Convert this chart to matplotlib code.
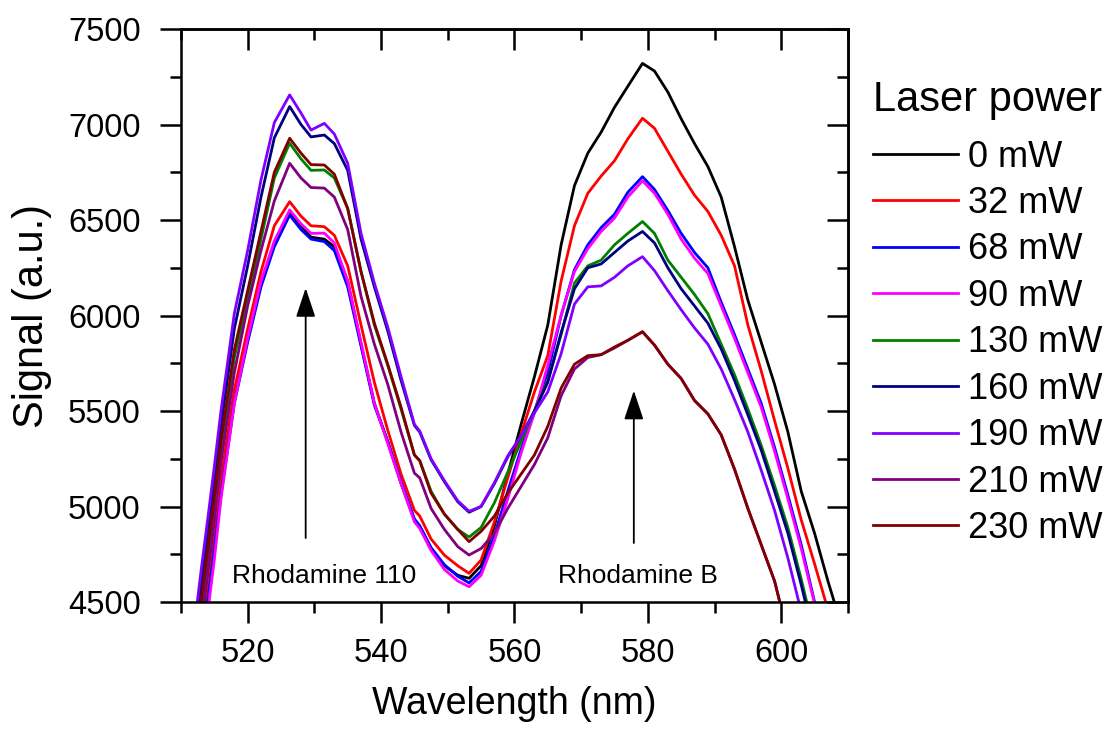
import matplotlib.pyplot as plt
from matplotlib.ticker import MultipleLocator

# wavelength grid (nm) shared by all spectra
wavelength = [512, 513, 514, 515, 516, 518, 520, 522, 524, 526.3, 528, 529.5, 531.5, 533,
              535, 537, 539, 541, 543, 545, 545.8, 547.5, 549.5, 551.5, 553.2, 555, 557,
              559, 561, 563, 565, 567, 569, 571, 573, 575, 577, 579.2, 581, 583, 585, 587,
              589, 591, 593, 595, 597, 599, 601, 603, 605, 607, 609, 610]

# emission signal for each laser power (a.u.)
sig_0mw = [4020, 4310, 4580, 4860, 5120, 5580, 5880, 6160, 6380, 6540, 6470, 6410, 6400, 6360,
           6180, 5850, 5540, 5340, 5120, 4930, 4895, 4780, 4690, 4640, 4624, 4690, 4900,
           5170, 5430, 5680, 5950, 6370, 6680, 6850, 6960, 7090, 7200, 7320, 7280, 7170,
           7030, 6900, 6780, 6620, 6360, 6080, 5860, 5640, 5390, 5080, 4860, 4610, 4380, 4270]
sig_32mw = [3990, 4280, 4550, 4830, 5140, 5610, 5930, 6230, 6470, 6596, 6520, 6470, 6465, 6420,
            6260, 5950, 5650, 5400, 5170, 4980, 4950, 4830, 4745, 4690, 4650, 4720, 4920,
            5150, 5380, 5600, 5790, 6180, 6470, 6640, 6730, 6810, 6925, 7033, 6980, 6860,
            6740, 6630, 6545, 6420, 6260, 5950, 5710, 5450, 5200, 4930, 4700, 4460, 4220, 4100]
sig_68mw = [3940, 4230, 4500, 4780, 5060, 5540, 5860, 6150, 6360, 6526, 6450, 6400, 6387, 6340,
            6150, 5840, 5530, 5340, 5130, 4935, 4900, 4785, 4695, 4635, 4600, 4660, 4850,
            5080, 5300, 5500, 5700, 6000, 6240, 6370, 6460, 6530, 6645, 6727, 6660, 6550,
            6430, 6330, 6250, 6070, 5900, 5720, 5540, 5310, 5060, 4800, 4500, 4200, 3900, 3750]
sig_90mw = [3880, 4170, 4440, 4720, 5040, 5540, 5880, 6180, 6390, 6553, 6480, 6430, 6431, 6380,
            6180, 5860, 5540, 5330, 5120, 4920, 4885, 4770, 4670, 4610, 4580, 4640, 4820,
            5040, 5280, 5490, 5740, 6000, 6230, 6350, 6440, 6510, 6620, 6705, 6640, 6530,
            6400, 6300, 6220, 6050, 5880, 5700, 5520, 5290, 5040, 4780, 4490, 4190, 3890, 3740]
sig_130mw = [4155, 4445, 4715, 4990, 5285, 5780, 6080, 6400, 6720, 6902, 6820, 6760, 6762, 6720,
             6560, 6230, 5950, 5740, 5510, 5270, 5240, 5080, 4960, 4880, 4840, 4890, 5020,
             5180, 5340, 5500, 5660, 5900, 6170, 6260, 6290, 6370, 6430, 6492, 6430, 6290,
             6200, 6110, 6010, 5850, 5690, 5510, 5320, 5110, 4890, 4620, 4330, 4050, 3770, 3630]
sig_160mw = [4290, 4580, 4850, 5130, 5420, 5930, 6260, 6620, 6930, 7094, 7000, 6935, 6945, 6900,
             6760, 6400, 6150, 5920, 5660, 5425, 5390, 5245, 5130, 5025, 4970, 5000, 5120,
             5260, 5370, 5500, 5650, 5910, 6140, 6250, 6270, 6330, 6390, 6440, 6380, 6250,
             6140, 6050, 5960, 5825, 5660, 5480, 5295, 5080, 4860, 4590, 4300, 4020, 3740, 3600]
sig_190mw = [4370, 4660, 4930, 5208, 5500, 6010, 6340, 6710, 7010, 7155, 7060, 6971, 7006, 6950,
             6797, 6430, 6170, 5940, 5680, 5430, 5395, 5250, 5135, 5030, 4975, 5000, 5125,
             5265, 5370, 5490, 5600, 5800, 6060, 6150, 6155, 6200, 6260, 6308, 6235, 6130,
             6030, 5935, 5850, 5720, 5560, 5390, 5190, 4980, 4730, 4450, 4170, 3890, 3610, 3470]
sig_210mw = [4100, 4390, 4660, 4940, 5230, 5700, 6050, 6340, 6600, 6797, 6720, 6670, 6667, 6620,
             6450, 6100, 5850, 5640, 5390, 5175, 5150, 4990, 4880, 4790, 4746, 4780, 4860,
             4990, 5105, 5220, 5360, 5580, 5720, 5780, 5795, 5830, 5870, 5915, 5845, 5745,
             5670, 5555, 5485, 5375, 5195, 4990, 4800, 4610, 4330, 4050, 3780, 3500, 3250, 3100]
sig_230mw = [4210, 4500, 4770, 5050, 5340, 5820, 6130, 6440, 6750, 6928, 6850, 6790, 6788, 6740,
             6560, 6230, 5960, 5745, 5520, 5270, 5240, 5070, 4960, 4880, 4816, 4870, 4950,
             5070, 5170, 5270, 5420, 5620, 5745, 5790, 5795, 5835, 5870, 5915, 5845, 5745,
             5670, 5555, 5485, 5375, 5195, 4990, 4800, 4610, 4330, 4050, 3780, 3500, 3250, 3100]

labels = ['0 mW', '32 mW', '68 mW', '90 mW', '130 mW', '160 mW', '190 mW', '210 mW', '230 mW']
colors = ['#000000', '#FF0000', '#0000FF', '#FF00FF', '#008000', '#000080', '#8000FF',
          '#800080', '#800000']
spectra = [sig_0mw, sig_32mw, sig_68mw, sig_90mw, sig_130mw, sig_160mw, sig_190mw,
           sig_210mw, sig_230mw]

plt.rcParams['font.family'] = ['Liberation Sans', 'DejaVu Sans']

fig = plt.figure(figsize=(11.17, 7.29), dpi=100)
ax = fig.add_axes([0.162, 0.1742, 0.5971, 0.786])

for sig, lab, col in zip(spectra, labels, colors):
    ax.plot(wavelength, sig, color=col, lw=2.0, label=lab)

ax.set_xlim(510, 610)
ax.set_ylim(4500, 7500)
ax.xaxis.set_major_locator(MultipleLocator(20))
ax.xaxis.set_minor_locator(MultipleLocator(10))
ax.yaxis.set_major_locator(MultipleLocator(500))
ax.yaxis.set_minor_locator(MultipleLocator(250))
ax.tick_params(which='major', direction='out', length=15, width=1.8, labelsize=23.5)
ax.tick_params(which='minor', direction='out', length=8, width=1.8)
ax.tick_params(axis='x', pad=11)
ax.tick_params(axis='y', pad=14)
for sp in ax.spines.values():
    sp.set_linewidth(1.8)

# inward ticks on the top and right frame
top = ax.secondary_xaxis('top')
top.xaxis.set_major_locator(MultipleLocator(20))
top.xaxis.set_minor_locator(MultipleLocator(10))
top.tick_params(which='major', direction='in', length=15, width=1.8, labeltop=False)
top.tick_params(which='minor', direction='in', length=8, width=1.8)
top.spines['top'].set_linewidth(1.8)
right = ax.secondary_yaxis('right')
right.yaxis.set_major_locator(MultipleLocator(500))
right.yaxis.set_minor_locator(MultipleLocator(250))
right.tick_params(which='major', direction='in', length=15, width=1.8, labelright=False)
right.tick_params(which='minor', direction='in', length=8, width=1.8)
right.spines['right'].set_linewidth(1.8)

ax.set_xlabel('Wavelength (nm)', fontsize=27, labelpad=12)
ax.set_ylabel('Signal (a.u.)', fontsize=30)
ax.yaxis.set_label_coords(-0.193, 0.5)

# peak markers
arrow = dict(arrowstyle='-|>,head_length=0.9,head_width=0.3', color='black', lw=1.3,
             mutation_scale=20, shrinkA=0, shrinkB=0)
ax.annotate('', xy=(528.7, 6144), xytext=(528.7, 4835), arrowprops=arrow)
ax.annotate('', xy=(577.9, 5607), xytext=(577.9, 4809), arrowprops=arrow)
ax.text(517.6, 4600, 'Rhodamine 110', fontsize=19, va='baseline', ha='left')
ax.text(566.5, 4600, 'Rhodamine B', fontsize=19, va='baseline', ha='left')

fig.text(0.7816, 1 - 100 / 729, 'Laser power', fontsize=30, va='center', ha='left')
ax.legend(loc='upper left', bbox_to_anchor=(0.7816, 0.8084), bbox_transform=fig.transFigure,
          frameon=False, fontsize=26, handlelength=2.35, handletextpad=0.28,
          labelspacing=0.316, borderpad=0, borderaxespad=0)

fig.savefig('out.png', dpi=100)
